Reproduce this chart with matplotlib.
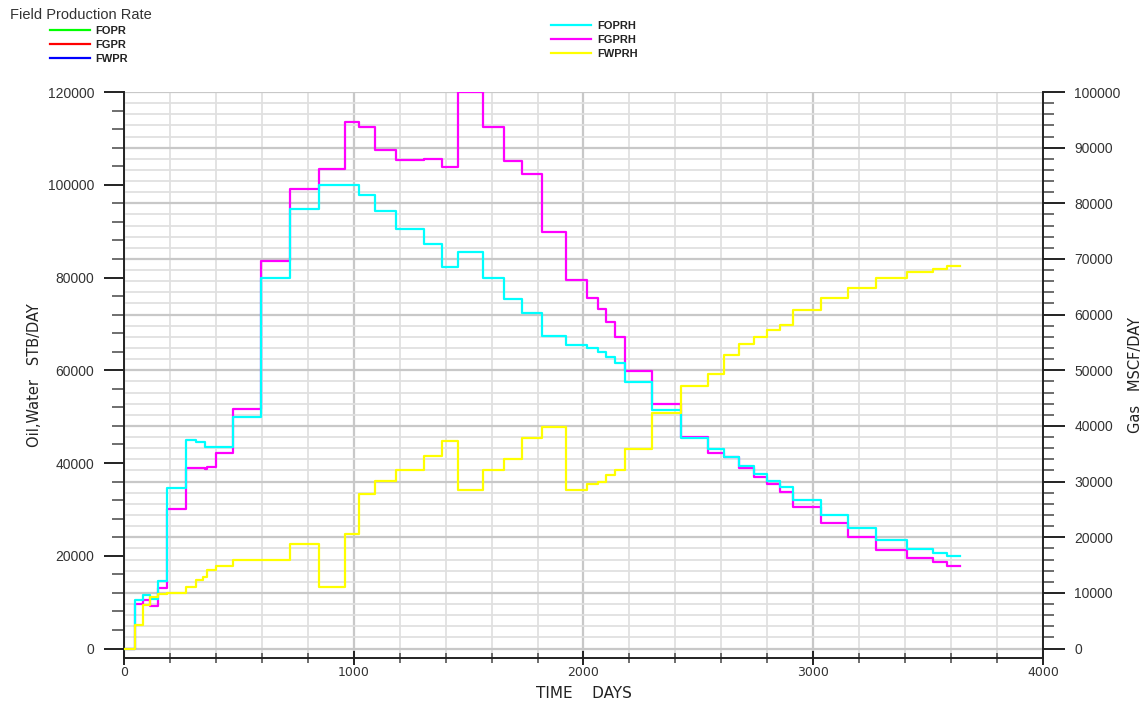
import matplotlib
matplotlib.use('Agg')
import matplotlib.pyplot as plt
from matplotlib.lines import Line2D
from matplotlib.ticker import MultipleLocator

# report times (days), shared by the three history vectors
days = [0, 48, 84, 113, 148, 185, 268, 313, 342, 352, 362, 399, 475, 598, 724, 848, 964,
        1025, 1091, 1184, 1304, 1382, 1452, 1564, 1656, 1734, 1818, 1922, 2016, 2064,
        2096, 2139, 2180, 2298, 2423, 2544, 2613, 2675, 2744, 2798, 2856, 2910, 3034,
        3152, 3272, 3410, 3521, 3583, 3640]

# oil rate history, STB/DAY (left axis)
foprh = [0, 10400, 11600, 10700, 14500, 34600, 45000, 44500, 44500, 43400, 43400, 43400,
         50000, 80000, 94800, 100000, 100000, 97900, 94400, 90400, 87300, 82200, 85400,
         80000, 75400, 72300, 67400, 65400, 64700, 63900, 62900, 61500, 57400, 51400,
         45500, 43000, 41200, 39400, 37600, 36200, 34900, 32000, 28900, 26100, 23300,
         21500, 20700, 20000, 20000]

# gas rate history, MSCF/DAY (right axis)
fgprh = [0, 8000, 8700, 7700, 10800, 25100, 32400, 32400, 32400, 32200, 32700, 35100,
         43000, 69700, 82500, 86100, 94600, 93700, 89600, 87700, 88000, 86600, 100000,
         93700, 87600, 85300, 74900, 66200, 63000, 61100, 58600, 56000, 49900, 44000,
         38000, 35200, 34500, 32400, 30900, 29600, 28100, 25400, 22600, 20000, 17700,
         16200, 15500, 14800, 14800]

# water rate history, STB/DAY (left axis)
fwprh = [0, 5100, 9500, 11200, 11700, 12000, 13300, 14800, 15500, 15500, 16900, 17800,
         19200, 19100, 22500, 13200, 24600, 33300, 36100, 38500, 41500, 44700, 34200,
         38500, 40900, 45400, 47800, 34200, 35400, 36000, 37400, 38500, 43000, 50700,
         56600, 59300, 63400, 65600, 67100, 68600, 69800, 72900, 75600, 77800, 79800,
         81200, 81800, 82500, 82500]

sim_names = ['FOPR', 'FGPR', 'FWPR']
sim_colors = ['#00ff00', '#ff0000', '#0000ff']
hist_names = ['FOPRH', 'FGPRH', 'FWPRH']
hist_colors = ['#00ffff', '#ff00ff', '#ffff00']

plain = ['Liberation Sans', 'DejaVu Sans']
narrow = ['DejaVu Sans']

fig = plt.figure(figsize=(11.45, 7.05), dpi=100)
ax = fig.add_axes([0.1083, 0.0667, 0.8026, 0.8028])
ax2 = ax.twinx()
# gas axis (with the grid) goes underneath
ax.set_zorder(ax2.get_zorder() + 1)
ax.patch.set_visible(False)
ax2.patch.set_visible(True)
ax2.patch.set_facecolor('white')

ax.set_xlim(0, 4000)
ax.set_ylim(-2030, 120000)
ax2.set_ylim(-1690, 100000)

ax.xaxis.set_major_locator(MultipleLocator(1000))
ax.xaxis.set_minor_locator(MultipleLocator(200))
ax.set_yticks(range(0, 120001, 20000))
ax.set_yticks(range(0, 120001, 4000), minor=True)
ax2.set_yticks(range(0, 100001, 10000))
ax2.set_yticks(range(0, 100001, 2000), minor=True)

# grid lives on the lower axes
ax2.xaxis.set_visible(True)
ax2.xaxis.set_major_locator(MultipleLocator(1000))
ax2.xaxis.set_minor_locator(MultipleLocator(200))
ax2.tick_params(axis='x', which='both', bottom=False, top=False,
                labelbottom=False, labeltop=False)
ax2.grid(which='minor', axis='both', color='#e0e0e0', lw=1.3)
ax2.grid(which='major', axis='both', color='#c8c8c8', lw=1.6)

ax.plot(days, foprh, drawstyle='steps-post', color=hist_colors[0], lw=1.6, zorder=3)
ax2.plot(days, fgprh, drawstyle='steps-post', color=hist_colors[1], lw=1.6)
ax.plot(days, fwprh, drawstyle='steps-post', color=hist_colors[2], lw=1.6, zorder=4)

for a in (ax, ax2):
    a.spines['top'].set_visible(False)
ax.spines['right'].set_visible(False)
ax2.spines['left'].set_visible(False)
ax2.spines['bottom'].set_visible(False)
for s in ('left', 'bottom'):
    ax.spines[s].set_color('#222222')
    ax.spines[s].set_linewidth(1.4)
ax2.spines['right'].set_color('#222222')
ax2.spines['right'].set_linewidth(1.4)

ax.tick_params(axis='y', which='major', direction='out', length=14.5, width=1.4,
               color='#222222', pad=7, labelsize=10, labelcolor='#333333')
ax.tick_params(axis='y', which='minor', direction='out', length=8.5, width=1.2,
               color='#555555')
ax2.tick_params(axis='y', which='major', direction='out', length=15.5, width=1.4,
                color='#222222', pad=7, labelsize=10, labelcolor='#333333')
ax2.tick_params(axis='y', which='minor', direction='out', length=8, width=1.2,
                color='#555555')
ax.tick_params(axis='x', which='major', direction='inout', length=10, width=1.4,
               color='#222222', pad=1, labelsize=9, labelcolor='#333333')
ax.tick_params(axis='x', which='minor', direction='inout', length=7, width=1.2,
               color='#555555')

for lab in ax.get_yticklabels() + ax2.get_yticklabels():
    lab.set_family(plain)
for lab in ax.get_xticklabels():
    lab.set_family(narrow)

ax.set_xlabel('TIME    DAYS', family=narrow, fontsize=11, color='#222222', labelpad=5)
ax.set_ylabel('Oil,Water   STB/DAY', family=narrow, fontsize=10.5, color='#222222',
              labelpad=4)
ax2.set_ylabel('Gas   MSCF/DAY', family=narrow, fontsize=10.5, color='#222222',
               labelpad=5)

fig.text(10 / 1145, 1 - 15 / 705, 'Field Production Rate', family=plain, fontsize=10.5,
         color='#333333', va='center', ha='left')

sim_handles = [Line2D([], [], color=c, lw=1.6) for c in sim_colors]
leg1 = fig.legend(sim_handles, sim_names, loc='upper left',
                  bbox_to_anchor=(40 / 1145, 1 - 16 / 705), frameon=False,
                  handlelength=3.6, handletextpad=0.45, labelspacing=0.35,
                  prop={'family': plain, 'size': 8, 'weight': 'bold'})
hist_handles = [Line2D([], [], color=c, lw=1.6) for c in hist_colors]
leg2 = fig.legend(hist_handles, hist_names, loc='upper left',
                  bbox_to_anchor=(541 / 1145, 1 - 11 / 705), frameon=False,
                  handlelength=3.6, handletextpad=0.6, labelspacing=0.35,
                  prop={'family': plain, 'size': 8, 'weight': 'bold'})
for t in leg1.get_texts() + leg2.get_texts():
    t.set_color('#222222')

fig.savefig('out.png', dpi=100)
